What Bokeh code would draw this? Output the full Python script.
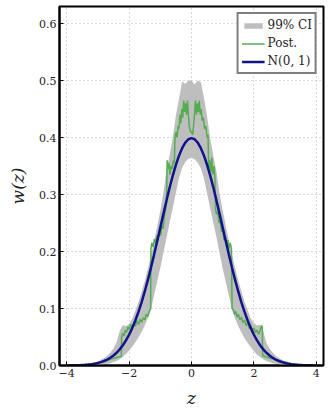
from bokeh.plotting import figure
from bokeh.models import Range1d, FixedTicker, Legend, LegendItem, PrintfTickFormatter
from bokeh.embed import file_html
from bokeh.resources import INLINE

# ---- data ----
grid_z = [-4.0, -3.9, -3.8, -3.7, -3.6, -3.5, -3.4, -3.3, -3.2, -3.1,
          -3.0, -2.9, -2.8, -2.7, -2.6, -2.5, -2.4, -2.3, -2.2, -2.1,
          -2.0, -1.9, -1.8, -1.7, -1.6, -1.5, -1.4, -1.3, -1.2, -1.1,
          -1.0, -0.9, -0.8, -0.7, -0.6, -0.5, -0.4, -0.3, -0.2, -0.1,
          0.0, 0.1, 0.2, 0.3, 0.4, 0.5, 0.6, 0.7, 0.8, 0.9,
          1.0, 1.1, 1.2, 1.3, 1.4, 1.5, 1.6, 1.7, 1.8, 1.9,
          2.0, 2.1, 2.2, 2.3, 2.4, 2.5, 2.6, 2.7, 2.8, 2.9,
          3.0, 3.1, 3.2, 3.3, 3.4, 3.5, 3.6, 3.7, 3.8, 3.9, 4.0]

normal_pdf = [0.0001, 0.0002, 0.0003, 0.0004, 0.0006, 0.0009, 0.0012, 0.0017, 0.0024, 0.0033,
              0.0044, 0.0060, 0.0079, 0.0104, 0.0136, 0.0175, 0.0224, 0.0283, 0.0355, 0.0440,
              0.0540, 0.0656, 0.0790, 0.0940, 0.1109, 0.1295, 0.1497, 0.1714, 0.1942, 0.2179,
              0.2420, 0.2661, 0.2897, 0.3123, 0.3332, 0.3521, 0.3683, 0.3814, 0.3910, 0.3970,
              0.3989, 0.3970, 0.3910, 0.3814, 0.3683, 0.3521, 0.3332, 0.3123, 0.2897, 0.2661,
              0.2420, 0.2179, 0.1942, 0.1714, 0.1497, 0.1295, 0.1109, 0.0940, 0.0790, 0.0656,
              0.0540, 0.0440, 0.0355, 0.0283, 0.0224, 0.0175, 0.0136, 0.0104, 0.0079, 0.0060,
              0.0044, 0.0033, 0.0024, 0.0017, 0.0012, 0.0009, 0.0006, 0.0004, 0.0003, 0.0002, 0.0001]

ci_upper = [0.0, 0.0, 0.0, 0.0, 0.001, 0.001, 0.002, 0.003, 0.004, 0.005,
            0.007, 0.010, 0.013, 0.017, 0.023, 0.030, 0.041, 0.061, 0.071, 0.069,
            0.073, 0.082, 0.096, 0.111, 0.129, 0.148, 0.170, 0.193, 0.218, 0.244,
            0.271, 0.303, 0.342, 0.370, 0.400, 0.439, 0.468, 0.499, 0.494, 0.500,
            0.500, 0.493, 0.500, 0.497, 0.470, 0.437, 0.398, 0.368, 0.340, 0.302,
            0.272, 0.245, 0.219, 0.194, 0.171, 0.149, 0.130, 0.112, 0.097, 0.083,
            0.074, 0.070, 0.072, 0.060, 0.040, 0.030, 0.023, 0.017, 0.013, 0.010,
            0.007, 0.005, 0.004, 0.003, 0.002, 0.001, 0.001, 0.0, 0.0, 0.0, 0.0]

ci_lower = [0.0, 0.0, 0.0, 0.0, 0.0, 0.0, 0.0, 0.0, 0.0, 0.001,
            0.001, 0.001, 0.002, 0.003, 0.004, 0.006, 0.008, 0.011, 0.015, 0.020,
            0.026, 0.033, 0.041, 0.049, 0.059, 0.070, 0.083, 0.098, 0.123, 0.147,
            0.171, 0.198, 0.224, 0.251, 0.277, 0.303, 0.329, 0.347, 0.357, 0.363,
            0.364, 0.362, 0.356, 0.346, 0.328, 0.302, 0.276, 0.250, 0.225, 0.197,
            0.170, 0.146, 0.122, 0.097, 0.082, 0.069, 0.058, 0.048, 0.040, 0.032,
            0.025, 0.019, 0.015, 0.011, 0.008, 0.006, 0.004, 0.003, 0.002, 0.001,
            0.001, 0.0, 0.0, 0.0, 0.0, 0.0, 0.0, 0.0, 0.0, 0.0, 0.0]

post_z = [-4.0, -3.5, -3.2, -3.0, -2.8, -2.6, -2.4, -2.25, -2.24, -2.2,
          -2.16, -2.12, -2.08, -2.04, -2.0, -1.95, -1.9, -1.85, -1.8, -1.75,
          -1.7, -1.65, -1.6, -1.55, -1.5, -1.45, -1.4, -1.35, -1.31, -1.3,
          -1.27, -1.23, -1.19, -1.15, -1.11, -1.07, -1.03, -0.99, -0.95, -0.91,
          -0.87, -0.84, -0.8, -0.78, -0.75, -0.72, -0.69, -0.66, -0.62, -0.58,
          -0.55, -0.53, -0.5, -0.46, -0.43, -0.4, -0.37, -0.34, -0.31, -0.28,
          -0.25, -0.22, -0.19, -0.16, -0.13, -0.1, -0.07, -0.03,
          0.0, 0.04, 0.08, 0.11, 0.13, 0.16, 0.19, 0.22, 0.25, 0.28,
          0.31, 0.34, 0.38, 0.42, 0.46, 0.5, 0.53, 0.55, 0.58, 0.62,
          0.65, 0.68, 0.72, 0.75, 0.77, 0.8, 0.84, 0.88, 0.92, 0.96,
          1.0, 1.04, 1.08, 1.12, 1.16, 1.2, 1.24, 1.28, 1.3, 1.34,
          1.38, 1.42, 1.46, 1.5, 1.55, 1.6, 1.65, 1.7, 1.75, 1.8,
          1.85, 1.9, 1.95, 2.0, 2.05, 2.1, 2.15, 2.2, 2.25, 2.27,
          2.28, 2.4, 2.6, 2.8, 3.0, 3.2, 3.5, 4.0]

post_w = [0.0, 0.001, 0.003, 0.005, 0.008, 0.011, 0.014, 0.016, 0.050, 0.057,
          0.052, 0.062, 0.058, 0.068, 0.063, 0.072, 0.066, 0.074, 0.069, 0.078,
          0.072, 0.081, 0.076, 0.084, 0.080, 0.090, 0.086, 0.096, 0.100, 0.205,
          0.215, 0.208, 0.222, 0.215, 0.228, 0.220, 0.235, 0.228, 0.245, 0.240,
          0.262, 0.270, 0.285, 0.360, 0.345, 0.355, 0.335, 0.350, 0.345, 0.360,
          0.355, 0.400, 0.410, 0.400, 0.420, 0.415, 0.440, 0.425, 0.450, 0.435,
          0.465, 0.445, 0.460, 0.440, 0.465, 0.440, 0.420, 0.410,
          0.410, 0.405, 0.430, 0.450, 0.465, 0.440, 0.460, 0.445, 0.465, 0.440,
          0.450, 0.430, 0.435, 0.415, 0.420, 0.400, 0.405, 0.345, 0.360, 0.340,
          0.365, 0.335, 0.350, 0.330, 0.275, 0.265, 0.270, 0.250, 0.255, 0.235,
          0.240, 0.220, 0.225, 0.210, 0.220, 0.205, 0.215, 0.205, 0.100, 0.098,
          0.090, 0.095, 0.085, 0.090, 0.080, 0.085, 0.075, 0.080, 0.070, 0.075,
          0.065, 0.070, 0.062, 0.066, 0.058, 0.062, 0.055, 0.062, 0.070, 0.068,
          0.017, 0.015, 0.012, 0.009, 0.006, 0.003, 0.001, 0.0]

x_ticks = [-4, -2, 0, 2, 4]
x_tick_labels = {-4: "\u22124", -2: "\u22122", 0: "0", 2: "2", 4: "4"}
y_ticks = [0.0, 0.1, 0.2, 0.3, 0.4, 0.5, 0.6]

SERIF = "DejaVu Serif"

p = figure(width=328, height=416, output_backend="svg", toolbar_location=None,
           x_range=Range1d(-4.23, 4.23), y_range=Range1d(0, 0.63),
           min_border_left=59, min_border_right=5, min_border_top=6, min_border_bottom=51)

r_band = p.varea(x=grid_z, y1=ci_lower, y2=ci_upper, fill_color="#bebebe", fill_alpha=1.0)
r_post = p.line(post_z, post_w, line_color="#55ad52", line_width=1.5)
r_norm = p.line(grid_z, normal_pdf, line_color="#12128c", line_width=2.5)

p.outline_line_color = "black"
p.outline_line_width = 2
p.outline_line_alpha = 1.0

p.xaxis.ticker = FixedTicker(ticks=x_ticks)
p.yaxis.ticker = FixedTicker(ticks=y_ticks)
p.yaxis.formatter = PrintfTickFormatter(format="%.1f")
p.xaxis.major_label_overrides = x_tick_labels

for ax in (p.xaxis[0], p.yaxis[0]):
    ax.axis_line_width = 2
    ax.axis_line_color = "black"
    ax.major_tick_in = 4
    ax.major_tick_out = 0
    ax.minor_tick_in = 0
    ax.minor_tick_out = 0
    ax.major_label_text_font = SERIF
    ax.major_label_text_font_size = "11px"
    ax.major_label_text_color = "#222222"
    ax.axis_label_text_font = SERIF
    ax.axis_label_text_font_size = "17px"
    ax.axis_label_text_font_style = "italic"
    ax.axis_label_text_color = "#222222"

p.xaxis.axis_label = "z"
p.yaxis.axis_label = "w(z)"
p.xaxis.major_label_standoff = 3
p.yaxis.major_label_standoff = 3
p.xaxis.axis_label_standoff = 8
p.yaxis.axis_label_standoff = 8

p.grid.grid_line_color = "#b5b5b5"
p.grid.grid_line_dash = "1 3"
p.grid.grid_line_width = 1

legend = Legend(items=[LegendItem(label="99% CI", renderers=[r_band]),
                       LegendItem(label="Post.", renderers=[r_post]),
                       LegendItem(label="N(0, 1)", renderers=[r_norm])],
                location="top_right")
legend.glyph_height = 7
legend.glyph_width = 23
legend.label_height = 16
legend.spacing = 2
legend.padding = 3
legend.margin = 6
legend.label_standoff = 3
legend.label_text_font = SERIF
legend.label_text_font_size = "12px"
legend.label_text_color = "#222222"
legend.border_line_color = "black"
legend.border_line_width = 2
legend.background_fill_color = "white"
legend.background_fill_alpha = 1.0
p.add_layout(legend)

open("out.html", "w").write(file_html(p, INLINE))
